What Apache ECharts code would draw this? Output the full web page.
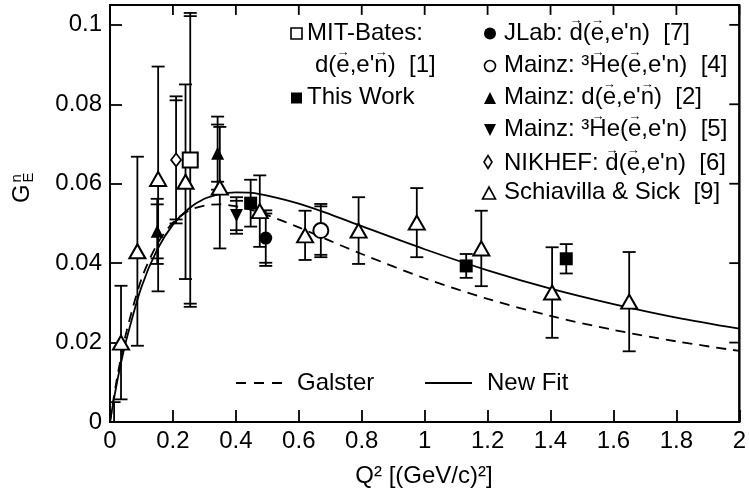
<!DOCTYPE html>
<html><head><meta charset="utf-8">
<script src="https://cdn.jsdelivr.net/npm/echarts@6/dist/echarts.min.js"></script>
<style>html,body{margin:0;padding:0;background:#fff;overflow:hidden}#c{width:749px;height:492px}</style>
</head><body><div id="c"></div>
<script>
// ---------------- data ----------------
const xTicks = [0, 0.2, 0.4, 0.6, 0.8, 1, 1.2, 1.4, 1.6, 1.8, 2];
const yTicks = [0, 0.02, 0.04, 0.06, 0.08, 0.1];
const xRange = [0, 2], yRange = [0, 0.105];

const curveX   = [0,0.01,0.02,0.03,0.05,0.1,0.15,0.2,0.25,0.3,0.35,0.4,0.45,0.5,0.6,0.7,0.8,1.0,1.2,1.4,1.6,1.8,2.0];
const galsterY = [0,0.0052,0.0100,0.0143,0.0220,0.0360,0.0448,0.0502,0.0532,0.0545,0.0548,0.0543,0.0534,0.0521,0.0490,0.0456,0.0423,0.0362,0.0310,0.0267,0.0232,0.0203,0.0179];
const newFitY  = [0,0.0047,0.0090,0.0130,0.0201,0.0340,0.0434,0.0497,0.0537,0.0562,0.0574,0.0578,0.0577,0.0570,0.0550,0.0523,0.0493,0.0435,0.0382,0.0336,0.0297,0.0263,0.0235];

const mitX = [0.255], mitY = [0.066], mitErr = [0.0362], mitErrTot = [0.0370];
const thisX = [0.447, 1.132, 1.450], thisY = [0.0551, 0.0393, 0.0411], thisErr = [0.0059, 0.0030, 0.0037];
const jlabX = [0.495], jlabY = [0.0463], jlabErr = [0.0062], jlabErrTot = [0.0070];
const mainz4X = [0.670], mainz4Y = [0.0482], mainz4Err = [0.0061], mainz4ErrTot = [0.0067];
const mainz2X = [0.150, 0.342], mainz2Y = [0.0480, 0.0677], mainz2Err = [0.0068, 0.0072], mainz2ErrTot = [0.0082, 0.0092];
const mainz5X = [0.402], mainz5Y = [0.0520], mainz5Err = [0.0037], mainz5ErrTot = [0.0046];
const nikhefX = [0.210], nikhefY = [0.0660], nikhefErr = [0.0150], nikhefErrTot = [0.0160];
const ssX = [0.035,0.087,0.153,0.240,0.349,0.476,0.620,0.790,0.975,1.180,1.405,1.650];
const ssY = [0.0200,0.0430,0.0612,0.0605,0.0590,0.0531,0.0470,0.0482,0.0502,0.0437,0.0326,0.0303];
const ssErr = [0.0143,0.0238,0.0283,0.0245,0.0153,0.0090,0.0062,0.0084,0.0087,0.0095,0.0114,0.0125];
const lowBarX = [0.013], lowBarY = [0.0], lowBarErr = [0.005];

// ---------------- helpers ----------------
const FONT = '"Liberation Sans", Arial, Helvetica, sans-serif';
const FS = 24;
const mctx = document.createElement('canvas').getContext('2d');
mctx.font = FS + 'px ' + FONT;
const tw = s => mctx.measureText(s).width;

function renderErr(params, api) {
  const x = api.value(0), y = api.value(1), e1 = api.value(2), e2 = api.value(3);
  const em = Math.max(e1, e2);
  const top = api.coord([x, y + em]), bot = api.coord([x, y - em]);
  const st = {stroke: '#000', lineWidth: 1.8};
  const ch = [{type: 'line', shape: {x1: top[0], y1: top[1], x2: bot[0], y2: bot[1]}, style: st}];
  [e1, e2].forEach(e => {
    if (e > 0) [y + e, y - e].forEach(v => {
      const p = api.coord([x, v]);
      ch.push({type: 'line', shape: {x1: p[0] - 6.5, y1: p[1], x2: p[0] + 6.5, y2: p[1]}, style: st});
    });
  });
  return {type: 'group', children: ch};
}
function errSeries(xs, ys, e1, e2) {
  return {type: 'custom', renderItem: renderErr, clip: true, silent: true, z: 3,
    data: xs.map((x, i) => [x, ys[i], e1[i], e2 ? e2[i] : 0])};
}
function scat(xs, ys, opt) {
  return Object.assign({type: 'scatter', z: 5, silent: true, data: xs.map((x, i) => [x, ys[i]])}, opt);
}
function seg(a, b, w) {
  return {type: 'line', data: [a, b], showSymbol: false, clip: false, silent: true, z: 9,
    lineStyle: {color: '#000', width: w, type: 'solid'}};
}
const openStyle = {color: '#fff', borderColor: '#000', borderWidth: 2, opacity: 1};
const fillStyle = {color: '#000', opacity: 1};

function legendLine(x, baseline, str, arrows) {
  const els = [{type: 'text', x: x, y: baseline - 8.3, z: 10,
    style: {text: str, font: FS + 'px ' + FONT, fill: '#000', align: 'left', verticalAlign: 'middle'}}];
  (arrows || []).forEach(a => {
    const pre = str.slice(0, a[0]);
    const letter = str.slice(a[0], a[0] + a[1]);
    const cx = x + tw(pre) + tw(letter) / 2;
    els.push({type: 'text', x: cx, y: baseline - 21.5, z: 10,
      style: {text: '\u2192', font: '13px ' + FONT, fill: '#000', align: 'center', verticalAlign: 'middle'}});
  });
  return els;
}

const LX = 307, RX = 504;
const graphics = [];
graphics.push(...legendLine(LX, 41.7, 'MIT-Bates:', []));
const s1 = "d(e,e'n)  [1]";
graphics.push(...legendLine(315, 74, s1, [[2,1],[6,1]]));
graphics.push(...legendLine(LX, 106, 'This Work', []));
const s7 = "JLab: d(e,e'n)  [7]";
graphics.push(...legendLine(RX, 41.7, s7, [[6,1],[8,1]]));
const s4 = "Mainz: \u00B3He(e,e'n)  [4]";
graphics.push(...legendLine(RX, 74, s4, [[8,1],[11,1]]));
const s2 = "Mainz: d(e,e'n)  [2]";
graphics.push(...legendLine(RX, 106, s2, [[9,1],[13,1]]));
const s5 = "Mainz: \u00B3He(e,e'n)  [5]";
graphics.push(...legendLine(RX, 137.5, s5, [[8,1],[11,1]]));
const s6 = "NIKHEF: d(e,e'n)  [6]";
graphics.push(...legendLine(RX, 171.5, s6, [[8,1],[10,1]]));
graphics.push(...legendLine(RX, 201, 'Schiavilla & Sick  [9]', []));

const mk = {stroke: '#000', lineWidth: 1.6, fill: '#fff'};
graphics.push({type: 'rect', shape: {x: 291, y: 28, width: 11, height: 11}, style: mk, z: 10});
graphics.push({type: 'rect', shape: {x: 291, y: 92.5, width: 11, height: 11}, style: {fill: '#000'}, z: 10});
graphics.push({type: 'circle', shape: {cx: 490, cy: 33.5, r: 6}, style: {fill: '#000'}, z: 10});
graphics.push({type: 'circle', shape: {cx: 490, cy: 66, r: 5.5}, style: mk, z: 10});
graphics.push({type: 'polygon', shape: {points: [[484, 104], [496, 104], [490, 92]]}, style: {fill: '#000'}, z: 10});
graphics.push({type: 'polygon', shape: {points: [[484, 124], [496, 124], [490, 136]]}, style: {fill: '#000'}, z: 10});
graphics.push({type: 'polygon', shape: {points: [[488, 155.5], [492, 162], [488, 168.5], [484, 162]]}, style: mk, z: 10});
graphics.push({type: 'polygon', shape: {points: [[482.5, 199], [495.5, 199], [489, 187]]}, style: mk, z: 10});

graphics.push({type: 'line', shape: {x1: 236, y1: 383, x2: 282, y2: 383}, style: {stroke: '#000', lineWidth: 1.8, lineDash: [10, 8]}, z: 10});
graphics.push({type: 'text', x: 297, y: 383.4, z: 10, style: {text: 'Galster', font: FS + 'px ' + FONT, fill: '#000', verticalAlign: 'middle'}});
graphics.push({type: 'line', shape: {x1: 425, y1: 383, x2: 472, y2: 383}, style: {stroke: '#000', lineWidth: 1.8}, z: 10});
graphics.push({type: 'text', x: 487, y: 383.4, z: 10, style: {text: 'New Fit', font: FS + 'px ' + FONT, fill: '#000', verticalAlign: 'middle'}});

graphics.push({type: 'text', x: 424, y: 476, z: 10,
  style: {text: 'Q\u00B2 [(GeV/c)\u00B2]', font: FS + 'px ' + FONT, fill: '#000', align: 'center', verticalAlign: 'middle'}});
graphics.push({type: 'text', x: 22, y: 203, rotation: Math.PI / 2, z: 10,
  style: {text: 'G', font: FS + 'px ' + FONT, fill: '#000', align: 'left', verticalAlign: 'middle'}});
graphics.push({type: 'text', x: 17, y: 182.5, rotation: Math.PI / 2, z: 10,
  style: {text: 'n', font: '15px ' + FONT, fill: '#000', align: 'left', verticalAlign: 'middle'}});
graphics.push({type: 'text', x: 29, y: 182.5, rotation: Math.PI / 2, z: 10,
  style: {text: 'E', font: '15px ' + FONT, fill: '#000', align: 'left', verticalAlign: 'middle'}});

const fmt = v => String(parseFloat(Number(v).toFixed(3)));
const axLine = () => ({show: true, onZero: false, lineStyle: {color: '#000', width: 2}});
const tick = len => ({show: true, inside: true, length: len, lineStyle: {color: '#000', width: 1.8}});

// frame (top and right) and mirrored inward ticks as short line series in data space
const dY = 0.0025, dX = 0.032;
const frameSeries = [
  seg([xRange[0], yRange[1]], [xRange[1], yRange[1]], 2),
  seg([xRange[1], yRange[1]], [xRange[1], yRange[0]], 2)
].concat(xTicks.map(v => seg([v, yRange[1]], [v, yRange[1] - dY], 1.8)))
 .concat(yTicks.map(v => seg([xRange[1], v], [xRange[1] - dX, v], 1.8)));

const option = {
  animation: false,
  grid: {left: 110, right: 9, top: 5, bottom: 70, show: true, borderColor: '#000', borderWidth: 2},
  xAxis: {type: 'value', min: xRange[0], max: xRange[1], interval: 0.2, axisLine: axLine(), axisTick: tick(12), splitLine: {show: false},
     axisLabel: {color: '#000', fontSize: FS, fontFamily: FONT, margin: 7, formatter: fmt}},
  yAxis: {type: 'value', min: yRange[0], max: yRange[1], interval: 0.02, axisLine: axLine(), axisTick: tick(12), splitLine: {show: false},
     axisLabel: {color: '#000', fontSize: FS, fontFamily: FONT, margin: 8, formatter: fmt, showMaxLabel: false}},
  series: [
    {type: 'line', data: curveX.map((x, i) => [x, galsterY[i]]), showSymbol: false, smooth: 0.3, z: 2, silent: true,
     lineStyle: {color: '#000', width: 1.8, type: [10, 7]}},
    {type: 'line', data: curveX.map((x, i) => [x, newFitY[i]]), showSymbol: false, smooth: 0.3, z: 2, silent: true,
     lineStyle: {color: '#000', width: 1.8}},
    ...frameSeries,
    errSeries(lowBarX, lowBarY, lowBarErr),
    errSeries(ssX, ssY, ssErr),
    errSeries(mitX, mitY, mitErr, mitErrTot),
    errSeries(thisX, thisY, thisErr),
    errSeries(jlabX, jlabY, jlabErr, jlabErrTot),
    errSeries(mainz4X, mainz4Y, mainz4Err, mainz4ErrTot),
    errSeries(mainz2X, mainz2Y, mainz2Err, mainz2ErrTot),
    errSeries(mainz5X, mainz5Y, mainz5Err, mainz5ErrTot),
    errSeries(nikhefX, nikhefY, nikhefErr, nikhefErrTot),
    scat(ssX, ssY, {symbol: 'triangle', symbolSize: [16, 14], itemStyle: openStyle}),
    scat(mitX, mitY, {symbol: 'rect', symbolSize: [15, 15], itemStyle: openStyle}),
    scat(nikhefX, nikhefY, {symbol: 'diamond', symbolSize: [10, 13], itemStyle: {color: '#fff', borderColor: '#000', borderWidth: 1.8, opacity: 1}}),
    scat(mainz4X, mainz4Y, {symbol: 'circle', symbolSize: 15, itemStyle: openStyle}),
    scat(thisX, thisY, {symbol: 'rect', symbolSize: [13, 13], itemStyle: fillStyle}),
    scat(jlabX, jlabY, {symbol: 'circle', symbolSize: 13, itemStyle: fillStyle}),
    scat(mainz2X, mainz2Y, {symbol: 'triangle', symbolSize: [13, 13], itemStyle: fillStyle}),
    scat(mainz5X, mainz5Y, {symbol: 'triangle', symbolSize: [13, 13], symbolRotate: 180, itemStyle: fillStyle})
  ]
};
const chart = echarts.init(document.getElementById('c'), null, {renderer: 'canvas'});
chart.setOption(option);
chart.setOption({graphic: graphics});
</script>
</body></html>
